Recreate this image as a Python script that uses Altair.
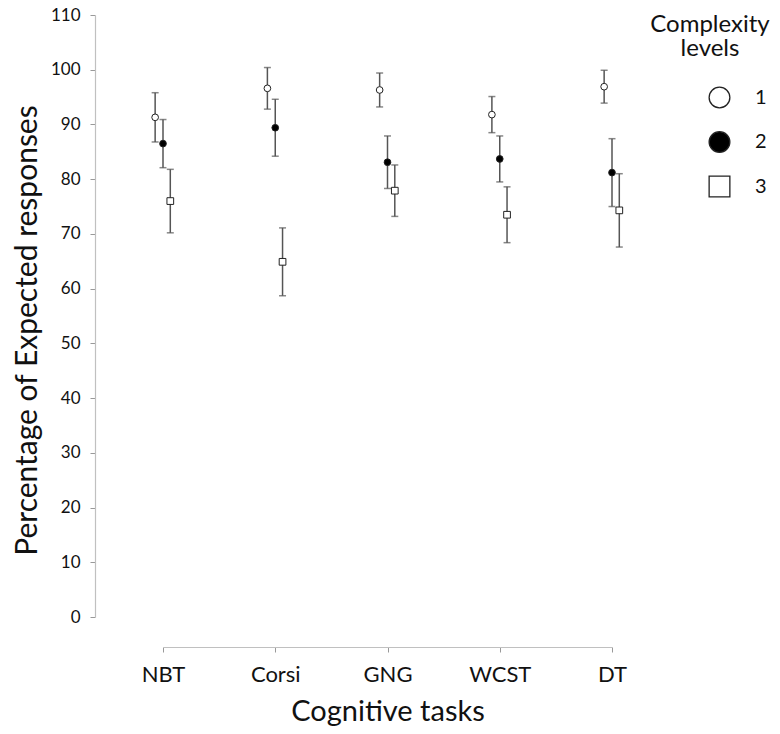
import json
import altair as alt
import pandas as pd

tasks = ["NBT", "Corsi", "GNG", "WCST", "DT"]
levels = ["1", "2", "3"]
level1_mean = [91.3, 96.6, 96.3, 91.8, 96.9]
level1_sd = [4.5, 3.8, 3.1, 3.3, 3.0]
level2_mean = [86.5, 89.4, 83.1, 83.7, 81.2]
level2_sd = [4.4, 5.2, 4.8, 4.2, 6.2]
level3_mean = [76.0, 64.9, 77.9, 73.5, 74.3]
level3_sd = [5.8, 6.2, 4.7, 5.1, 6.7]
y_ticks = list(range(0, 111, 10))

offsets = {"1": -0.07, "2": 0.0, "3": 0.065}
rows = []
for lv, means, sds in zip(levels,
                          [level1_mean, level2_mean, level3_mean],
                          [level1_sd, level2_sd, level3_sd]):
    for i, (t, m, s) in enumerate(zip(tasks, means, sds)):
        rows.append(dict(task=t, pos=i + offsets[lv], level=lv,
                         mean=m, lo=m - s, hi=m + s))
df = pd.DataFrame(rows)

label_expr = json.dumps(tasks) + "[datum.value]"
X_TITLE = "Cognitive tasks"
Y_TITLE = "Percentage of Expected responses"
LEG_TITLE = ["Complexity", "levels"]

x_scale = alt.Scale(domain=[0, len(tasks) - 1], nice=False, zero=False)
y_scale = alt.Scale(domain=[0, 110], nice=False, zero=False)

x_axis = alt.Axis(
    values=list(range(len(tasks))), labelExpr=label_expr, labelFlush=False,
    offset=30, labelFontSize=22, labelPadding=12,
    titleFontSize=29, titleY=64, titleBaseline="middle",
)
y_axis = alt.Axis(
    values=y_ticks, offset=68, labelFontSize=17, labelPadding=10,
    titleFontSize=30, titleX=-68, titleY=315, titleBaseline="middle",
)

base = alt.Chart(df)

rules = base.mark_rule(color="#555555", strokeWidth=1.5).encode(
    x=alt.X("pos:Q", scale=x_scale, title=X_TITLE, axis=x_axis),
    y=alt.Y("lo:Q", scale=y_scale, title=Y_TITLE, axis=y_axis),
    y2="hi:Q",
)
cap_lo = base.mark_tick(orient="horizontal", size=7, thickness=1.5, color="#555555").encode(
    x=alt.X("pos:Q", scale=x_scale, title=X_TITLE, axis=x_axis),
    y=alt.Y("lo:Q", scale=y_scale, title=Y_TITLE, axis=y_axis),
)
cap_hi = base.mark_tick(orient="horizontal", size=7, thickness=1.5, color="#555555").encode(
    x=alt.X("pos:Q", scale=x_scale, title=X_TITLE, axis=x_axis),
    y=alt.Y("hi:Q", scale=y_scale, title=Y_TITLE, axis=y_axis),
)
points = base.mark_point(filled=True, size=45, strokeWidth=1, opacity=1).encode(
    x=alt.X("pos:Q", scale=x_scale, title=X_TITLE, axis=x_axis),
    y=alt.Y("mean:Q", scale=y_scale, title=Y_TITLE, axis=y_axis),
    shape=alt.Shape(
        "level:N",
        scale=alt.Scale(domain=levels, range=["circle", "circle", "square"]),
        legend=alt.Legend(title=LEG_TITLE),
    ),
    fill=alt.Fill(
        "level:N",
        scale=alt.Scale(domain=levels, range=["white", "black", "white"]),
        legend=alt.Legend(title=LEG_TITLE),
    ),
    stroke=alt.Stroke(
        "level:N",
        scale=alt.Scale(domain=levels, range=["#222222", "#222222", "#222222"]),
        legend=alt.Legend(title=LEG_TITLE),
    ),
)

chart = (
    alt.layer(rules, cap_lo, cap_hi, points)
    .properties(
        width=449, height=602,
        autosize=alt.AutoSizeParams(type="none"),
        padding={"left": 155, "top": 7, "right": 160, "bottom": 109},
    )
    .configure(font="Lato")
    .configure_view(stroke=None)
    .configure_axis(
        grid=False, domainColor="#c0c0c0", domainWidth=1.2,
        tickColor="#999999", tickSize=5, labelColor="#111111",
        titleColor="#111111", titleFontWeight="normal",
    )
    .configure_legend(
        orient="none", legendX=487, legendY=-2, padding=0,
        titleFontSize=24, titleLineHeight=24, titleAlign="center",
        titleAnchor="middle", titleFontWeight="normal", titlePadding=25,
        labelFontSize=20, labelOffset=24, rowPadding=17.5,
        symbolSize=430, symbolOffset=54, symbolStrokeWidth=1.3,
        labelColor="#111111", titleColor="#111111",
    )
)

chart.save("out.html", embed_options={"renderer": "svg", "actions": False})
